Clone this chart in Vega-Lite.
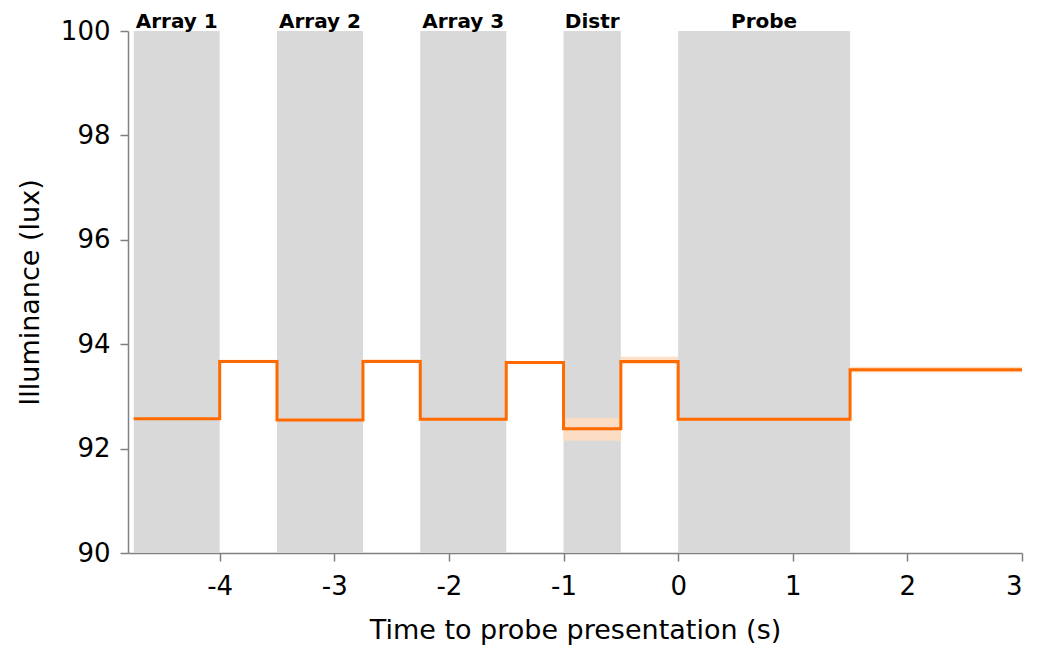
{
  "$schema": "https://vega.github.io/schema/vega-lite/v6.json",
  "width": 894,
  "height": 522,
  "autosize": {"type": "none"},
  "padding": {"left": 128, "top": 31, "right": 17, "bottom": 100},
  "background": "white",
  "config": {
    "view": {"stroke": null},
    "font": "DejaVu Sans",
    "axis": {
      "grid": false,
      "domainColor": "#808080",
      "tickColor": "#808080",
      "domainWidth": 1.5,
      "tickWidth": 1.5,
      "tickSize": 8,
      "labelColor": "black",
      "titleColor": "black",
      "labelFont": "DejaVu Sans",
      "titleFont": "DejaVu Sans",
      "labelFontSize": 26,
      "titleFontSize": 27,
      "titleFontWeight": "normal"
    }
  },
  "datasets": {
    "regions": [
      {"start": -4.75, "end": -4, "mid": -4.375, "label": "Array 1"},
      {"start": -3.5, "end": -2.75, "mid": -3.125, "label": "Array 2"},
      {"start": -2.25, "end": -1.5, "mid": -1.875, "label": "Array 3"},
      {"start": -1, "end": -0.5, "mid": -0.75, "label": "Distr"},
      {"start": 0, "end": 1.5, "mid": 0.75, "label": "Probe"}
    ],
    "illum": [
      {"t": -4.75, "lux": 92.57, "lo": 92.55, "hi": 92.6},
      {"t": -4, "lux": 93.67, "lo": 93.64, "hi": 93.7},
      {"t": -3.5, "lux": 92.55, "lo": 92.53, "hi": 92.58},
      {"t": -2.75, "lux": 93.67, "lo": 93.64, "hi": 93.71},
      {"t": -2.25, "lux": 92.56, "lo": 92.54, "hi": 92.59},
      {"t": -1.5, "lux": 93.65, "lo": 93.62, "hi": 93.68},
      {"t": -1, "lux": 92.38, "lo": 92.15, "hi": 92.59},
      {"t": -0.5, "lux": 93.67, "lo": 93.62, "hi": 93.76},
      {"t": 0, "lux": 92.56, "lo": 92.54, "hi": 92.59},
      {"t": 1.5, "lux": 93.51, "lo": 93.46, "hi": 93.57},
      {"t": 3, "lux": 93.51, "lo": 93.46, "hi": 93.57}
    ]
  },
  "layer": [
    {
      "data": {"name": "regions"},
      "mark": {"type": "rect", "color": "#D9D9D9"},
      "encoding": {
        "x": {"field": "start", "type": "quantitative", "scale": {"domain": [-4.8, 3], "nice": false, "zero": false},
              "axis": {"values": [-4, -3, -2, -1, 0, 1, 2, 3], "labelExpr": "datum.value < 0 ? '-' + abs(datum.value) : '' + datum.value", "title": "Time to probe presentation (s)", "labelPadding": 12, "titlePadding": 18}},
        "x2": {"field": "end"},
        "y": {"datum": 90, "type": "quantitative", "scale": {"domain": [90, 100], "nice": false, "zero": false},
              "axis": {"values": [90, 92, 94, 96, 98, 100], "format": "d", "title": "Illuminance (lux)", "labelPadding": 10, "titlePadding": 16}},
        "y2": {"datum": 100}
      }
    },
    {
      "data": {"name": "regions"},
      "mark": {"type": "text", "font": "DejaVu Sans", "fontWeight": "bold", "fontSize": 20, "color": "black", "baseline": "alphabetic", "dy": -3},
      "encoding": {
        "x": {"field": "mid", "type": "quantitative"},
        "y": {"datum": 100, "type": "quantitative"},
        "text": {"field": "label"}
      }
    },
    {
      "data": {"name": "illum"},
      "mark": {"type": "area", "interpolate": "step-after", "color": "#FDDDC0", "opacity": 0.9},
      "encoding": {
        "x": {"field": "t", "type": "quantitative"},
        "y": {"field": "lo", "type": "quantitative"},
        "y2": {"field": "hi"}
      }
    },
    {
      "data": {"name": "illum"},
      "mark": {"type": "line", "interpolate": "step-after", "color": "#FF6A00", "strokeWidth": 3},
      "encoding": {
        "x": {"field": "t", "type": "quantitative"},
        "y": {"field": "lux", "type": "quantitative"}
      }
    }
  ]
}
